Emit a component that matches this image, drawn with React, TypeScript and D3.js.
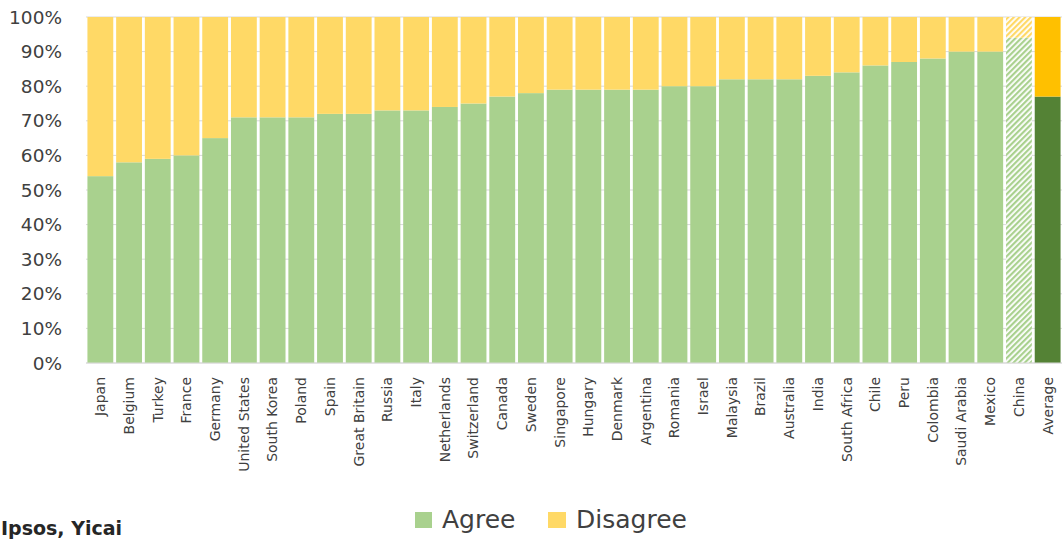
import React from "react";
import * as d3 from "d3";

const countries = [
  "Japan", "Belgium", "Turkey", "France", "Germany", "United States", "South Korea", "Poland",
  "Spain", "Great Britain", "Russia", "Italy", "Netherlands", "Switzerland", "Canada", "Sweden",
  "Singapore", "Hungary", "Denmark", "Argentina", "Romania", "Israel", "Malaysia", "Brazil",
  "Australia", "India", "South Africa", "Chile", "Peru", "Colombia", "Saudi Arabia", "Mexico",
  "China", "Average",
];
const agree = [
  54, 58, 59, 60, 65, 71, 71, 71, 72, 72, 73, 73, 74, 75, 77, 78,
  79, 79, 79, 79, 80, 80, 82, 82, 82, 83, 84, 86, 87, 88, 90, 90,
  94, 77,
];
const yTicks = [0, 10, 20, 30, 40, 50, 60, 70, 80, 90, 100];
const seriesNames = ["Agree", "Disagree"];

const W = 1062, H = 541;
const left = 86, right = 1062, top = 17, bottom = 363;
const FONT = "'DejaVu Sans', sans-serif";

export default function App() {
  const x = d3.scaleBand<string>().domain(countries).range([left, right]).paddingInner(0.1).paddingOuter(0.05);
  const y = d3.scaleLinear().domain([0, 100]).range([bottom, top]);
  const bw = x.bandwidth();

  const fillFor = (c: string, kind: "a" | "d") => {
    if (c === "Average") return kind === "a" ? "#548235" : "#FFC000";
    if (c === "China") return kind === "a" ? "url(#hatchG)" : "url(#hatchY)";
    return kind === "a" ? "#A9D18E" : "#FFD966";
  };

  return (
    <svg width={W} height={H} style={{ position: "absolute", left: 0, top: 0, background: "#fff" }}>
      <defs>
        <pattern id="hatchG" patternUnits="userSpaceOnUse" width="4" height="4" patternTransform="rotate(45)">
          <rect width="4" height="4" fill="#ffffff" />
          <rect width="2.2" height="4" fill="#A9D18E" />
        </pattern>
        <pattern id="hatchY" patternUnits="userSpaceOnUse" width="4" height="4" patternTransform="rotate(45)">
          <rect width="4" height="4" fill="#ffffff" />
          <rect width="2.2" height="4" fill="#FFD966" />
        </pattern>
      </defs>
      {yTicks.map((t) => (
        <g key={t}>
          <line x1={left} x2={right} y1={y(t)} y2={y(t)} stroke="#d9d9d9" strokeWidth={1} />
          <text x={62} y={y(t)} dy="0.36em" textAnchor="end" fontFamily={FONT} fontSize={18.5} fill="#404040">
            {t}%
          </text>
        </g>
      ))}
      {countries.map((c, i) => (
        <g key={c}>
          <rect x={x(c)} y={y(agree[i])} width={bw} height={y(0) - y(agree[i])} fill={fillFor(c, "a")} />
          <rect x={x(c)} y={y(100)} width={bw} height={y(agree[i]) - y(100)} fill={fillFor(c, "d")} />
          <text
            transform={`translate(${(x(c) as number) + bw / 2},${bottom + 14}) rotate(-90)`}
            dy="0.35em"
            textAnchor="end"
            fontFamily={FONT}
            fontSize={14}
            fill="#404040"
          >
            {c}
          </text>
        </g>
      ))}
      <line x1={left} x2={right} y1={bottom} y2={bottom} stroke="#d9d9d9" strokeWidth={1} />
      <g>
        <rect x={415} y={512} width={17} height={16} fill="#A9D18E" />
        <text x={442} y={528} fontFamily={FONT} fontSize={25} fill="#404040">{seriesNames[0]}</text>
        <rect x={548} y={512} width={18} height={16} fill="#FFD966" />
        <text x={576} y={528} fontFamily={FONT} fontSize={25} fill="#404040">{seriesNames[1]}</text>
      </g>
      <text x={1} y={535} fontFamily={FONT} fontSize={19} fontWeight="bold" fill="#262626">Ipsos, Yicai</text>
    </svg>
  );
}
